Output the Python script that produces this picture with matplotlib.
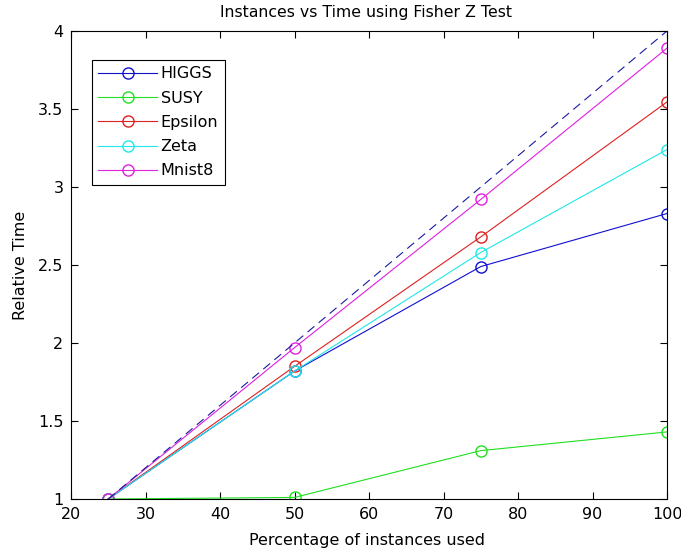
import matplotlib
matplotlib.use("Agg")
import matplotlib.pyplot as plt

plt.rcParams['font.family'] = ['DejaVu Sans']

pct = [25, 50, 75, 100]
ideal = [1, 2, 3, 4]
higgs = [1, 1.82, 2.49, 2.83]
susy = [1, 1.01, 1.31, 1.43]
epsilon = [1, 1.85, 2.68, 3.545]
zeta = [1, 1.82, 2.58, 3.24]
mnist8 = [1, 1.97, 2.92, 3.89]

series = [("HIGGS", higgs, "#1010d0"),
          ("SUSY", susy, "#20e020"),
          ("Epsilon", epsilon, "#e02020"),
          ("Zeta", zeta, "#20e8e8"),
          ("Mnist8", mnist8, "#e020e0")]

fig = plt.figure(figsize=(6.81, 5.51), dpi=100)
ax = fig.add_axes([71 / 681, 52 / 551, 596 / 681, 468 / 551])

for name, vals, col in series:
    ax.plot(pct, vals, color=col, marker='o', markersize=8, mfc='none',
            mec=col, lw=0.8, label=name)
ax.plot(pct, ideal, color="#1a1aa0", ls=(0, (8, 5)), lw=0.8)

ax.set_xlim(20, 100)
ax.set_ylim(1, 4)
ax.set_xticks(range(20, 101, 10))
ax.set_yticks([1, 1.5, 2, 2.5, 3, 3.5, 4])
ax.set_yticklabels(['1', '1.5', '2', '2.5', '3', '3.5', '4'])
ax.tick_params(direction='in', top=True, right=True, labelsize=11.5, length=5,
               pad=5.5)
for s in ax.spines.values():
    s.set_linewidth(0.8)

ax.set_title("Instances vs Time using Fisher Z Test", fontsize=11.3, pad=10,
             x=0.495)
ax.set_xlabel("Percentage of instances used", fontsize=11.5)
ax.xaxis.set_label_coords(0.496, -0.072)
ax.set_ylabel("Relative Time", fontsize=11.5)
ax.yaxis.set_label_coords(-0.072, 0.5)

leg = ax.legend(loc='upper left', fontsize=11.5,
                fancybox=False, edgecolor='black', framealpha=1,
                handlelength=3.7, labelspacing=0.58, borderpad=0.4,
                handletextpad=0.2, borderaxespad=0)
leg.get_frame().set_linewidth(0.8)
leg.set_bbox_to_anchor((92 / 681, 1 - 60 / 551), transform=fig.transFigure)

fig.savefig("out.png", dpi=100)
